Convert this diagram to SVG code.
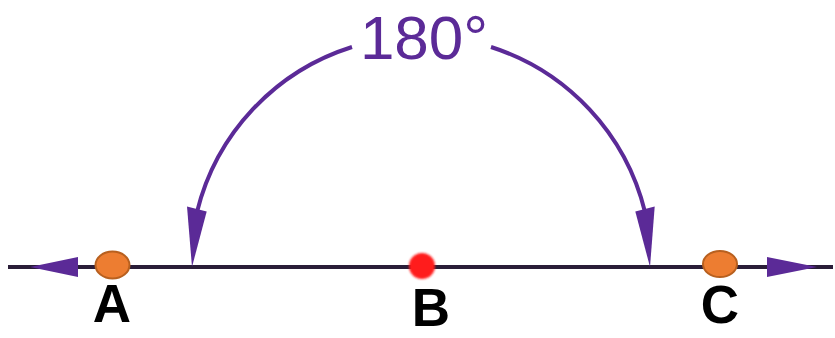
<svg xmlns="http://www.w3.org/2000/svg" width="835" height="338" viewBox="0 0 835 338">
<defs>
<style>
.arc{fill:none;stroke:#5b2a97;stroke-width:4}
.head{fill:#5b2a97}
.axis{stroke:#2a1d38;stroke-width:4}
.pt{fill:#ed7d31;stroke:#b8601f;stroke-width:2}
.lbl{font-family:"Liberation Sans",Arial,sans-serif;font-weight:bold;font-size:53px;fill:#000;text-anchor:middle}
.deg{font-family:"Liberation Sans",Arial,sans-serif;font-size:62px;fill:#5b2a97;text-anchor:middle}
</style>
<filter id="blur" x="-50%" y="-50%" width="200%" height="200%"><feGaussianBlur stdDeviation="1.2"/></filter>
</defs>
<rect width="835" height="338" fill="#fff"/>
<g id="connectors">
<line class="axis" x1="8" y1="267" x2="833" y2="267"/>
<polygon class="head" points="30,267 78,257 78,277"/>
<polygon class="head" points="817,267 767,257 767,277"/>
<path class="arc" d="M197,212 A231,231 0 0 1 352,47"/>
<path class="arc" d="M491,47 A231,231 0 0 1 645,212"/>
<polygon class="head" points="192,267 187,206.6 206.7,211.4"/>
<polygon class="head" points="650,267 635.3,211.4 654.7,206.6"/>
</g>
<g id="angle-label"><text class="deg" x="424" y="59">180°</text></g>
<g id="A"><ellipse class="pt" cx="112.5" cy="265" rx="17" ry="13.5"/><text class="lbl" x="112" y="322">A</text></g>
<g id="B"><circle cx="422" cy="266" r="13" fill="#ff1a1a" filter="url(#blur)"/><text class="lbl" x="431" y="326">B</text></g>
<g id="C"><ellipse class="pt" cx="720" cy="264" rx="17" ry="13"/><text class="lbl" x="720" y="323">C</text></g>
</svg>
